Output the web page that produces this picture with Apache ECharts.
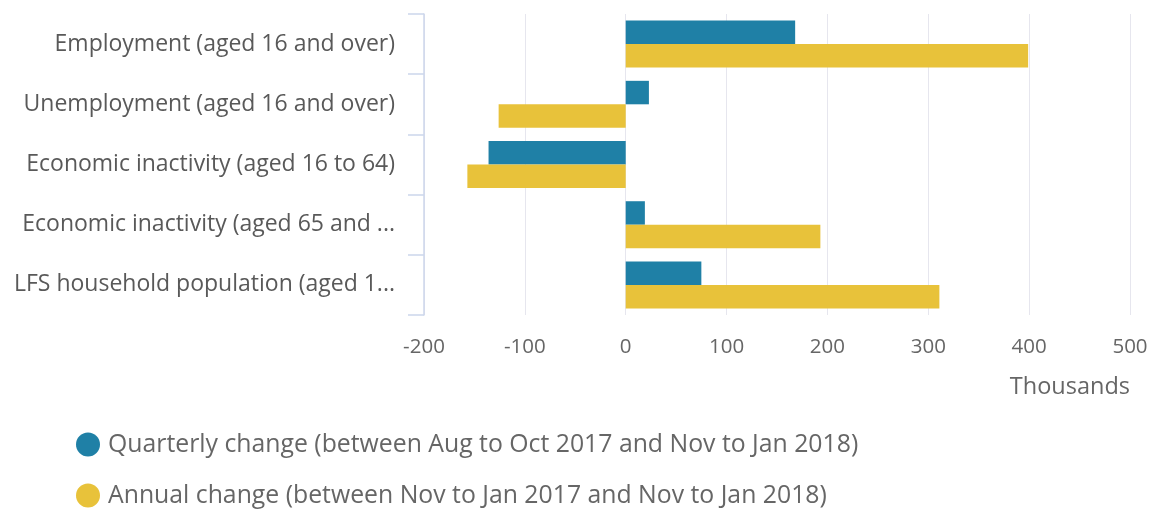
<!DOCTYPE html>
<html>
<head>
<meta charset="utf-8">
<script src="https://cdn.jsdelivr.net/npm/echarts@6/dist/echarts.min.js"></script>
<style>
html,body{margin:0;padding:0;background:#fff;}
#chart{width:1157px;height:509px;}
</style>
</head>
<body>
<div id="chart"></div>
<script>
var categories = [
  "Employment (aged 16 and over)",
  "Unemployment (aged 16 and over)",
  "Economic inactivity (aged 16 to 64)",
  "Economic inactivity (aged 65 and over)",
  "LFS household population (aged 16 and over)"
];
var quarterlyName = "Quarterly change (between Aug to Oct 2017 and Nov to Jan 2018)";
var annualName = "Annual change (between Nov to Jan 2017 and Nov to Jan 2018)";
var quarterly = [168, 23, -136, 19, 75];
var annual = [399, -126, -157, 193, 311];
var xTicks = { min: -200, max: 500, interval: 100 };
var unitLabel = "Thousands";

var font = "'Open Sans', 'Noto Sans', sans-serif";
function legendFor(name, top) {
  return {
    orient: 'vertical',
    left: 71,
    top: top,
    itemWidth: 24,
    itemHeight: 24,
    icon: 'circle',
    textStyle: { fontSize: 24.8, color: '#666', fontFamily: font, padding: [0, 0, 0, 3] },
    data: [name]
  };
}
// label truncation width per category (the reference cuts labels at word/char boundaries)
var labelWidths = [392, 392, 392, 383, 392];
var categoryItems = categories.map(function (c, i) {
  return { value: c, textStyle: { width: labelWidths[i], overflow: 'truncate', ellipsis: '...' } };
});
var chart = echarts.init(document.getElementById('chart'));
chart.setOption({
  animation: false,
  textStyle: { fontFamily: font },
  grid: { left: 424, right: 27, top: 14, bottom: 194 },
  legend: [legendFor(quarterlyName, 427), legendFor(annualName, 478)],
  xAxis: {
    type: 'value',
    min: xTicks.min,
    max: xTicks.max,
    interval: xTicks.interval,
    name: unitLabel,
    nameLocation: 'end',
    nameGap: 0,
    nameTextStyle: { align: 'right', verticalAlign: 'top', padding: [60, 0, 0, 0], fontSize: 23.5, color: '#666', fontFamily: font },
    axisLine: { show: false },
    axisTick: { show: false },
    axisLabel: { fontSize: 20.5, color: '#666', margin: 22, fontFamily: font },
    splitLine: { show: true, lineStyle: { color: '#e6e6ee', width: 1 } }
  },
  yAxis: {
    type: 'category',
    inverse: true,
    data: categoryItems,
    axisLine: { show: true, onZero: false, lineStyle: { color: '#ccd6eb', width: 1.5 } },
    axisTick: { show: true, length: 16, lineStyle: { color: '#ccd6eb', width: 1.5 } },
    axisLabel: {
      fontSize: 23,
      color: '#595959',
      margin: 29,
      width: 392,
      overflow: 'truncate',
      ellipsis: '...',
      fontFamily: font
    },
    splitLine: { show: false }
  },
  series: [
    {
      name: quarterlyName,
      type: 'bar',
      data: quarterly,
      itemStyle: { color: '#1f80a6' },
      barGap: '0%',
      barCategoryGap: '22%'
    },
    {
      name: annualName,
      type: 'bar',
      data: annual,
      itemStyle: { color: '#e8c23a' },
      barGap: '0%',
      barCategoryGap: '22%'
    }
  ]
});
</script>
</body>
</html>
